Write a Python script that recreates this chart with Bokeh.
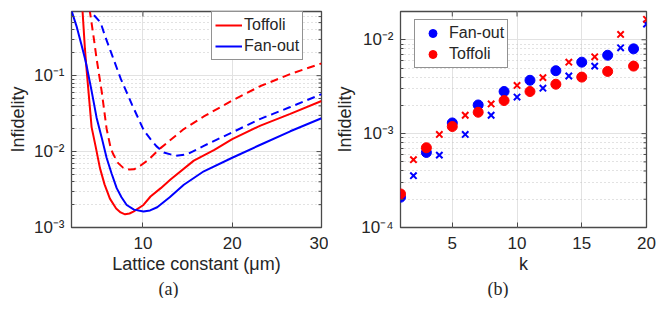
import math
from bokeh.plotting import figure
from bokeh.layouts import row
from bokeh.models import (Range1d, FixedTicker, CustomJSTickFormatter, Legend, LegendItem, Title,
                          LinearAxis)
from bokeh.embed import file_html
from bokeh.resources import INLINE

# ---------------- Panel (a): infidelity vs lattice constant ----------------
tof_solid_x = [3.0, 3.24, 3.5, 3.69, 4.25, 4.7, 5.18, 5.7, 6.3, 7.0, 7.5, 8.0, 8.5, 8.93,
               10.06, 10.85, 12.0, 13.09, 15.7, 18.0, 20.0, 23.16, 26.5, 30.0]
tof_solid_y = [1.3, 0.70, 0.23, 0.12, 0.021, 0.0117, 0.0061, 0.0037, 0.0024, 0.00178, 0.00158,
               0.00149, 0.00153, 0.00162, 0.00198, 0.00256, 0.0033, 0.0043, 0.0076, 0.0105,
               0.0146, 0.022, 0.0314, 0.0464]

fan_solid_x = [2.0, 2.56, 3.1, 3.5, 3.69, 4.25, 4.81, 5.37, 5.93, 6.5, 7.06, 7.6, 8.18, 9.0,
               10.06, 10.8, 11.6, 13.0, 14.58, 16.82, 20.0, 23.16, 26.5, 30.0]
fan_solid_y = [0.72, 0.45, 0.26, 0.17, 0.135, 0.063, 0.028, 0.0155, 0.0083, 0.0051, 0.0033,
               0.0025, 0.00198, 0.00172, 0.00162, 0.00168, 0.00185, 0.0025, 0.00366, 0.0055,
               0.0083, 0.0123, 0.0185, 0.0275]

tof_dash_x = [3.9, 4.06, 4.5, 4.8, 5.4, 5.93, 6.4, 6.68, 7.2, 7.8, 8.5, 9.0, 9.7, 10.43,
              10.85, 11.97, 14.58, 16.82, 20.0, 23.16, 26.5, 30.0]
tof_dash_y = [1.1, 0.70, 0.31, 0.17, 0.06, 0.020, 0.011, 0.0092, 0.0071, 0.0061, 0.0058, 0.00585,
              0.0065, 0.0075, 0.0083, 0.0111, 0.0198, 0.029, 0.047, 0.073, 0.105, 0.145]

fan_dash_x = [3.6, 4.13, 4.6, 5.26, 5.73, 6.38, 7.5, 8.8, 10.1, 10.85, 11.5, 12.34, 13.65,
              14.96, 16.82, 20.0, 23.16, 26.5, 30.0]
fan_dash_y = [0.85, 0.70, 0.61, 0.50, 0.34, 0.21, 0.092, 0.041, 0.019, 0.0146, 0.0118, 0.0097,
              0.0088, 0.0092, 0.0119, 0.0179, 0.027, 0.0386, 0.057]

# ---------------- Panel (b): infidelity vs k ----------------
k_odd = [1, 3, 5, 7, 9, 11, 13, 15, 17, 19]
k_even = [2, 4, 6, 8, 10, 12, 14, 16, 18, 20]
fan_circ = [2.1e-4, 6.3e-4, 1.30e-3, 2.02e-3, 2.81e-3, 3.7e-3, 4.68e-3, 5.77e-3, 6.84e-3, 8.0e-3]
tof_circ = [2.28e-4, 7.07e-4, 1.19e-3, 1.69e-3, 2.25e-3, 2.81e-3, 3.36e-3, 4.0e-3, 4.6e-3, 5.24e-3]
fan_cross = [3.56e-4, 5.9e-4, 9.8e-4, 1.57e-3, 2.45e-3, 3.05e-3, 4.11e-3, 5.24e-3, 8.2e-3, 1.47e-2]
tof_cross = [5.28e-4, 9.8e-4, 1.57e-3, 2.07e-3, 3.26e-3, 3.95e-3, 5.77e-3, 6.58e-3, 1.14e-2, 1.65e-2]

xticks_a = [10, 20, 30]
xticks_b = [5, 10, 15, 20]
decades_a = [-3, -2, -1]
decades_b = [-4, -3, -2]

RED = "#ff0000"
BLUE = "#0000ff"
AX = "#4a4a4a"
TXT = "#262626"
FONT = "Liberation Sans"
SERIF = "Liberation Serif"

SUP_JS = """
const e = Math.round(Math.log10(tick));
const m = {"-":"\u207b","0":"\u2070","1":"\u00b9","2":"\u00b2","3":"\u00b3","4":"\u2074",
           "5":"\u2075","6":"\u2076","7":"\u2077","8":"\u2078","9":"\u2079"};
return "10" + String(e).split("").map(c => m[c]).join("");
"""


def style_axis(ax):
    ax.axis_line_color = None
    ax.major_tick_in = 5
    ax.major_tick_out = 0
    ax.minor_tick_in = 3
    ax.minor_tick_out = 0
    ax.major_tick_line_color = AX
    ax.minor_tick_line_color = AX
    ax.major_tick_line_width = 1
    ax.minor_tick_line_width = 1
    ax.major_label_text_font = FONT
    ax.major_label_text_font_size = "17px"
    ax.major_label_text_color = TXT
    ax.axis_label_text_font = FONT
    ax.axis_label_text_font_size = "18px"
    ax.axis_label_text_font_style = "normal"
    ax.axis_label_text_color = TXT


def make_fig(xr, yr, xticks, decades, fw, ml, mr):
    p = figure(frame_width=fw, frame_height=216, x_range=Range1d(*xr), y_range=Range1d(*yr),
               y_axis_type="log", output_backend="svg", toolbar_location=None,
               min_border_left=ml, min_border_right=mr, min_border_top=11, min_border_bottom=0)
    p.outline_line_color = AX
    p.outline_line_width = 1.3
    p.background_fill_color = "white"
    p.border_fill_color = "white"
    xt = FixedTicker(ticks=xticks, minor_ticks=[])
    p.xaxis.ticker = xt
    p.yaxis.formatter = CustomJSTickFormatter(code=SUP_JS)
    style_axis(p.xaxis[0])
    style_axis(p.yaxis[0])
    p.xaxis.major_label_standoff = 9
    p.xaxis.axis_label_standoff = 2
    p.yaxis.major_label_standoff = 7
    p.yaxis.axis_label_standoff = 3
    p.xgrid.grid_line_color = "#e2e2e2"
    p.ygrid.grid_line_color = "#e2e2e2"
    p.ygrid.minor_grid_line_color = "#c4c4c4"
    p.ygrid.minor_grid_line_dash = "1 3"
    p.xgrid.ticker = xt
    # mirrored ticks on the top and right edges of the box
    ymaj = [10.0 ** d for d in decades]
    ymin = [m * 10.0 ** d for d in decades for m in range(2, 10) if m * 10.0 ** d <= yr[1]]
    p.scatter(xticks, [yr[1]] * len(xticks), marker="dash", angle=math.pi / 2, size=10,
              line_color=AX, line_width=1)
    p.scatter([xr[1]] * len(ymaj), ymaj, marker="dash", size=10, line_color=AX, line_width=1)
    p.scatter([xr[1]] * len(ymin), ymin, marker="dash", size=6, line_color=AX, line_width=1)
    # empty spacer axis (no ticks, no text) between the x axis and the panel caption
    spacer = LinearAxis(ticker=FixedTicker(ticks=[], minor_ticks=[]), axis_label=None,
                        axis_line_color=None, major_tick_line_color=None,
                        minor_tick_line_color=None, major_tick_in=0, major_tick_out=11,
                        minor_tick_in=0, minor_tick_out=0, major_label_standoff=0)
    p.add_layout(spacer, "below")
    return p


def style_legend(lg, gw):
    lg.border_line_color = TXT
    lg.border_line_width = 1
    lg.background_fill_alpha = 1
    lg.label_text_font = FONT
    lg.label_text_font_size = "16px"
    lg.label_text_color = TXT
    lg.glyph_width = gw
    lg.glyph_height = 20
    lg.label_height = 20
    lg.label_standoff = 2
    lg.padding = 3
    lg.spacing = 1
    lg.margin = 0


def panel_title(text):
    return Title(text=text, align="left", offset=87, standoff=0, vertical_align="bottom",
                 text_font=SERIF, text_font_size="18px", text_font_style="normal",
                 text_color=TXT)


# ---- figure (a)
pa = make_fig((2, 30), (1e-3, 0.7), xticks_a, decades_a, 250, 71, 7)
pa.xaxis[0].axis_label = "Lattice constant (\u03bcm)"
pa.yaxis.axis_label = "Infidelity"

r_tof = pa.line(tof_solid_x, tof_solid_y, line_color=RED, line_width=2)
r_fan = pa.line(fan_solid_x, fan_solid_y, line_color=BLUE, line_width=2)
pa.line(tof_dash_x, tof_dash_y, line_color=RED, line_width=2, line_dash="8 5")
pa.line(fan_dash_x, fan_dash_y, line_color=BLUE, line_width=2, line_dash="8 5")

leg_a = Legend(items=[LegendItem(label="Toffoli", renderers=[r_tof]),
                      LegendItem(label="Fan-out", renderers=[r_fan])],
               location=(140, 167))
style_legend(leg_a, 27)
pa.add_layout(leg_a)
pa.add_layout(panel_title("(a)"), "below")

# ---- figure (b)
pb = make_fig((1, 20), (1e-4, 2e-2), xticks_b, decades_b, 246, 72, 10)
pb.xaxis[0].axis_label = "k"
pb.yaxis.axis_label = "Infidelity"

r_fc = pb.scatter(k_odd, fan_circ, marker="circle", size=10, fill_color=BLUE, line_color=BLUE)
r_tc = pb.scatter(k_odd, tof_circ, marker="circle", size=10, fill_color=RED, line_color=RED)
pb.scatter(k_even, fan_cross, marker="x", size=9, line_color=BLUE, line_width=2)
pb.scatter(k_even, tof_cross, marker="x", size=9, line_color=RED, line_width=2)

leg_b = Legend(items=[LegendItem(label="Fan-out", renderers=[r_fc]),
                      LegendItem(label="Toffoli", renderers=[r_tc])],
               location=(14, 159))
style_legend(leg_b, 29)
pb.add_layout(leg_b)
pb.add_layout(panel_title("(b)"), "below")

layout = row(pa, pb)
open("out.html", "w").write(file_html(layout, INLINE))
